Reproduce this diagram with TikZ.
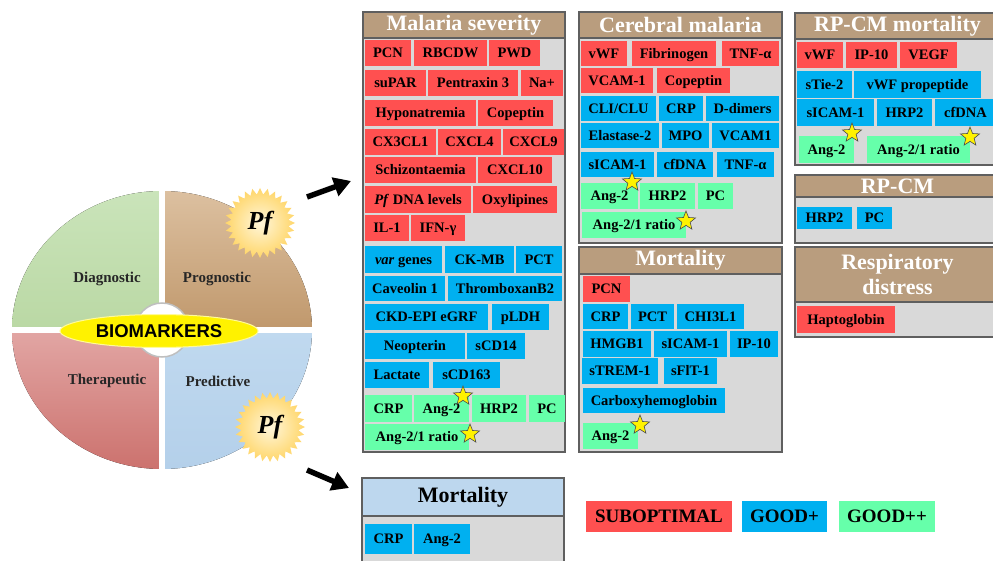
\documentclass[tikz,border=0pt]{standalone}
\usepackage{fontspec}
\setmainfont{Liberation Serif}
\newfontfamily\arialf{Liberation Sans}
\usetikzlibrary{shapes.geometric,arrows.meta}
\definecolor{cred}{RGB}{255,80,80}
\definecolor{cblue}{RGB}{0,176,240}
\definecolor{cgreen}{RGB}{102,255,170}
\definecolor{cpanel}{RGB}{217,217,217}
\definecolor{ctan}{RGB}{185,157,126}
\definecolor{cborder}{RGB}{95,95,95}
\definecolor{clblue}{RGB}{189,215,238}
\definecolor{qgreenT}{RGB}{202,228,186}
\definecolor{qgreenB}{RGB}{186,216,164}
\definecolor{qtanT}{RGB}{220,192,160}
\definecolor{qtanB}{RGB}{192,152,108}
\definecolor{qredT}{RGB}{226,166,164}
\definecolor{qredB}{RGB}{204,114,110}
\definecolor{qblueT}{RGB}{192,217,239}
\definecolor{qblueB}{RGB}{180,208,234}
\definecolor{burstin}{RGB}{255,246,218}
\definecolor{burstout}{RGB}{255,214,105}
\tikzset{
 cell/.style={inner sep=0pt, outer sep=0pt, anchor=north west, font=\bfseries\fontsize{14.5}{16}\selectfont, text=black, text height=9.6pt, text depth=0pt},
 panelbody/.style={fill=cpanel, draw=cborder, line width=1.2pt, anchor=north west, inner sep=0pt, outer sep=0pt},
 titlebar/.style={fill=ctan, draw=cborder, line width=1.2pt, anchor=north west, inner sep=0pt, outer sep=0pt, text=white, font=\bfseries\fontsize{22}{25}\selectfont, align=center},
 ministar/.style={star, star points=5, star point ratio=2.3, fill=yellow, draw=black!70, line width=0.6pt, minimum size=20pt, inner sep=0pt},
 burst/.style={star, star points=28, star point ratio=1.22, inner color=burstin, outer color=burstout, minimum size=70pt, inner sep=0pt, font=\bfseries\itshape\fontsize{26}{26}\selectfont},
 bigarrow/.style={line width=5.5pt, -{Triangle[length=17pt,width=19pt]}},
 quadlabel/.style={font=\bfseries\fontsize{15}{17}\selectfont, text=black!85},
 legendcell/.style={cell, font=\bfseries\fontsize{19}{21}\selectfont, text height=12.6pt}
}
\newcommand\cellbox[7]{\node[cell, fill=#6, minimum width={(#4-#2)*1pt}, minimum height={(#5-#3)*1pt}] (#1) at (#2,#3) {#7};}
\newcommand\legbox[7]{\node[legendcell, fill=#6, minimum width={(#4-#2)*1pt}, minimum height={(#5-#3)*1pt}] (#1) at (#2,#3) {#7};}
\newcommand\panelbox[8]{%
 \node[panelbody, minimum width={(#4-#2)*1pt}, minimum height={(#5-#3)*1pt}] (#1) at (#2,#3) {};
 \node[titlebar, #7, minimum width={(#4-#2)*1pt}, minimum height={(#6-#3)*1pt}] (#1t) at (#2,#3) {#8};}
\begin{document}
\begin{tikzpicture}[x=1pt,y=-1pt]
\useasboundingbox (0,0) rectangle (993,561);
\clip (0,0) rectangle (993,561);
\fill[white] (0,0) rectangle (993,561);
% ---------- circle of quadrants ----------
\fill[top color=qgreenT, bottom color=qgreenB] (162,330) -- (12,330) arc[start angle=180,end angle=90,x radius=150pt,y radius=139pt] -- cycle;
\fill[top color=qtanT, bottom color=qtanB] (162,330) -- (312,330) arc[start angle=0,end angle=90,x radius=150pt,y radius=139pt] -- cycle;
\fill[top color=qredT, bottom color=qredB] (162,330) -- (12,330) arc[start angle=180,end angle=270,x radius=150pt,y radius=139pt] -- cycle;
\fill[top color=qblueT, bottom color=qblueB] (162,330) -- (312,330) arc[start angle=0,end angle=-90,x radius=150pt,y radius=139pt] -- cycle;
\draw[white, line width=6pt] (162,185) -- (162,475);
\draw[white, line width=6pt] (5,330) -- (320,330);
\node[circle, fill=white, draw=black!25, line width=1.5pt, minimum size=54pt, inner sep=0pt] (hub) at (162,330) {};
\node[ellipse, fill=yellow, draw=yellow!40!white, line width=1pt, minimum width=198pt, minimum height=33pt, inner sep=0pt, font=\arialf\bfseries\fontsize{18.5}{20}\selectfont] (bio) at (159,331) {BIOMARKERS};
\node[quadlabel] (qd) at (107,279) {Diagnostic};
\node[quadlabel] (qp) at (217,279) {Prognostic};
\node[quadlabel] (qt) at (107,381) {Therapeutic};
\node[quadlabel] (qr) at (218,381) {Predictive};
\node[burst] (pf1) at (260,223) {Pf};
\node[burst] (pf2) at (270,427) {Pf};
% ---------- arrows ----------
\coordinate (a1s) at (307,197);
\coordinate (a1e) at (351,181);
\coordinate (a2s) at (307,470);
\coordinate (a2e) at (349,488);
\draw[bigarrow] (a1s) -- (a1e);
\draw[bigarrow] (a2s) -- (a2e);
% ---------- Malaria severity ----------
\panelbox{ms}{363}{12}{565}{452}{38}{}{Malaria severity}
\cellbox{ms1}{365}{40}{411}{66}{cred}{PCN}
\cellbox{ms2}{414}{40}{487}{66}{cred}{RBCDW}
\cellbox{ms3}{489}{40}{540}{66}{cred}{PWD}
\cellbox{ms4}{365}{70}{426}{96}{cred}{suPAR}
\cellbox{ms5}{428}{70}{518}{96}{cred}{Pentraxin 3}
\cellbox{ms6}{521}{70}{563}{96}{cred}{Na+}
\cellbox{ms7}{365}{100}{476}{126}{cred}{Hyponatremia}
\cellbox{ms8}{478}{100}{553}{126}{cred}{Copeptin}
\cellbox{ms9}{365}{129}{436}{155}{cred}{CX3CL1}
\cellbox{ms10}{438}{129}{501}{155}{cred}{CXCL4}
\cellbox{ms11}{503}{129}{564}{155}{cred}{CXCL9}
\cellbox{ms12}{365}{157}{476}{183}{cred}{Schizontaemia}
\cellbox{ms13}{478}{157}{552}{183}{cred}{CXCL10}
\cellbox{ms14}{365}{186}{471}{213}{cred}{\textit{Pf} DNA levels}
\cellbox{ms15}{473}{186}{557}{213}{cred}{Oxylipines}
\cellbox{ms16}{365}{215}{409}{241}{cred}{IL-1}
\cellbox{ms17}{411}{215}{465}{241}{cred}{IFN-γ}
\cellbox{ms18}{365}{246}{442}{273}{cblue}{\textit{var} genes}
\cellbox{ms19}{445}{246}{514}{273}{cblue}{CK-MB}
\cellbox{ms20}{516}{246}{562}{273}{cblue}{PCT}
\cellbox{ms21}{365}{276}{445}{301}{cblue}{Caveolin 1}
\cellbox{ms22}{448}{276}{562}{301}{cblue}{ThromboxanB2}
\cellbox{ms23}{365}{304}{488}{330}{cblue}{CKD-EPI eGRF}
\cellbox{ms24}{492}{304}{549}{330}{cblue}{pLDH}
\cellbox{ms25}{365}{333}{465}{359}{cblue}{Neopterin}
\cellbox{ms26}{467}{333}{525}{359}{cblue}{sCD14}
\cellbox{ms27}{365}{362}{429}{388}{cblue}{Lactate}
\cellbox{ms28}{433}{362}{500}{388}{cblue}{sCD163}
\cellbox{ms29}{365}{395}{412}{422}{cgreen}{CRP}
\cellbox{ms30}{414}{395}{469}{422}{cgreen}{Ang-2}
\cellbox{ms31}{472}{395}{526}{422}{cgreen}{HRP2}
\cellbox{ms32}{529}{395}{565}{422}{cgreen}{PC}
\cellbox{ms33}{365}{424}{469}{450}{cgreen}{Ang-2/1 ratio}
\node[ministar] (st1) at (463,396) {};
\node[ministar] (st2) at (470,434) {};
% ---------- Cerebral malaria ----------
\panelbox{cm}{579}{12}{782}{243}{38}{}{Cerebral malaria}
\cellbox{cm1}{581}{41}{627}{66}{cred}{vWF}
\cellbox{cm2}{632}{41}{716}{66}{cred}{Fibrinogen}
\cellbox{cm3}{722}{41}{779}{66}{cred}{TNF-α}
\cellbox{cm4}{581}{68}{653}{93}{cred}{VCAM-1}
\cellbox{cm5}{657}{68}{730}{93}{cred}{Copeptin}
\cellbox{cm6}{581}{96}{656}{121}{cblue}{CLI/CLU}
\cellbox{cm7}{659}{96}{703}{121}{cblue}{CRP}
\cellbox{cm8}{706}{96}{779}{121}{cblue}{D-dimers}
\cellbox{cm9}{581}{123}{659}{148}{cblue}{Elastase-2}
\cellbox{cm10}{662}{123}{709}{148}{cblue}{MPO}
\cellbox{cm11}{712}{123}{779}{148}{cblue}{VCAM1}
\cellbox{cm12}{581}{152}{654}{177}{cblue}{sICAM-1}
\cellbox{cm13}{657}{152}{713}{177}{cblue}{cfDNA}
\cellbox{cm14}{717}{152}{774}{177}{cblue}{TNF-α}
\cellbox{cm15}{581}{183}{638}{209}{cgreen}{Ang-2}
\cellbox{cm16}{640}{183}{695}{209}{cgreen}{HRP2}
\cellbox{cm17}{698}{183}{733}{209}{cgreen}{PC}
\cellbox{cm18}{582}{212}{686}{238}{cgreen}{Ang-2/1 ratio}
\node[ministar] (st3) at (632,182) {};
\node[ministar] (st4) at (686,221) {};
% ---------- Mortality (cerebral) ----------
\panelbox{mo}{579}{247}{782}{452}{274}{}{Mortality}
\cellbox{mo1}{583}{276}{630}{302}{cred}{PCN}
\cellbox{mo2}{583}{304}{628}{329}{cblue}{CRP}
\cellbox{mo3}{631}{304}{674}{329}{cblue}{PCT}
\cellbox{mo4}{677}{304}{744}{329}{cblue}{CHI3L1}
\cellbox{mo5}{583}{331}{651}{357}{cblue}{HMGB1}
\cellbox{mo6}{654}{331}{727}{357}{cblue}{sICAM-1}
\cellbox{mo7}{730}{331}{778}{357}{cblue}{IP-10}
\cellbox{mo8}{582}{358}{658}{384}{cblue}{sTREM-1}
\cellbox{mo9}{664}{358}{717}{384}{cblue}{sFlT-1}
\cellbox{mo10}{583}{388}{725}{413}{cblue}{Carboxyhemoglobin}
\cellbox{mo11}{583}{423}{638}{449}{cgreen}{Ang-2}
\node[ministar] (st5) at (640,425) {};
% ---------- RP-CM mortality ----------
\panelbox{rm}{795}{13}{1000}{165}{39}{}{RP-CM mortality}
\cellbox{rm1}{797}{42}{843}{68}{cred}{vWF}
\cellbox{rm2}{846}{42}{897}{68}{cred}{IP-10}
\cellbox{rm3}{900}{42}{957}{68}{cred}{VEGF}
\cellbox{rm4}{797}{71}{852}{98}{cblue}{sTie-2}
\cellbox{rm5}{854}{71}{981}{98}{cblue}{vWF propeptide}
\cellbox{rm6}{797}{99}{874}{126}{cblue}{sICAM-1}
\cellbox{rm7}{877}{99}{932}{126}{cblue}{HRP2}
\cellbox{rm8}{935}{99}{996}{126}{cblue}{cfDNA}
\cellbox{rm9}{799}{136}{854}{163}{cgreen}{Ang-2}
\cellbox{rm10}{867}{136}{970}{163}{cgreen}{Ang-2/1 ratio}
\node[ministar] (st6) at (852,133) {};
\node[ministar] (st7) at (970,137) {};
% ---------- RP-CM ----------
\panelbox{rc}{795}{175}{1000}{243}{197}{}{RP-CM}
\cellbox{rc1}{797}{207}{852}{229}{cblue}{HRP2}
\cellbox{rc2}{857}{207}{892}{229}{cblue}{PC}
% ---------- Respiratory distress ----------
\panelbox{rd}{795}{247}{1000}{337}{302}{}{Respiratory\\distress}
\cellbox{rd1}{797}{306}{895}{333}{cred}{Haptoglobin}
% ---------- Bottom mortality ----------
\panelbox{bm}{362}{478}{564}{570}{516}{fill=clblue, text=black}{Mortality}
\cellbox{bm1}{365}{524}{412}{554}{cblue}{CRP}
\cellbox{bm2}{414}{524}{470}{554}{cblue}{Ang-2}
% ---------- Legend ----------
\legbox{lg1}{586}{501}{732}{532}{cred}{SUBOPTIMAL}
\legbox{lg2}{742}{501}{827}{532}{cblue}{GOOD+}
\legbox{lg3}{839}{501}{935}{532}{cgreen}{GOOD++}
\end{tikzpicture}
\end{document}
